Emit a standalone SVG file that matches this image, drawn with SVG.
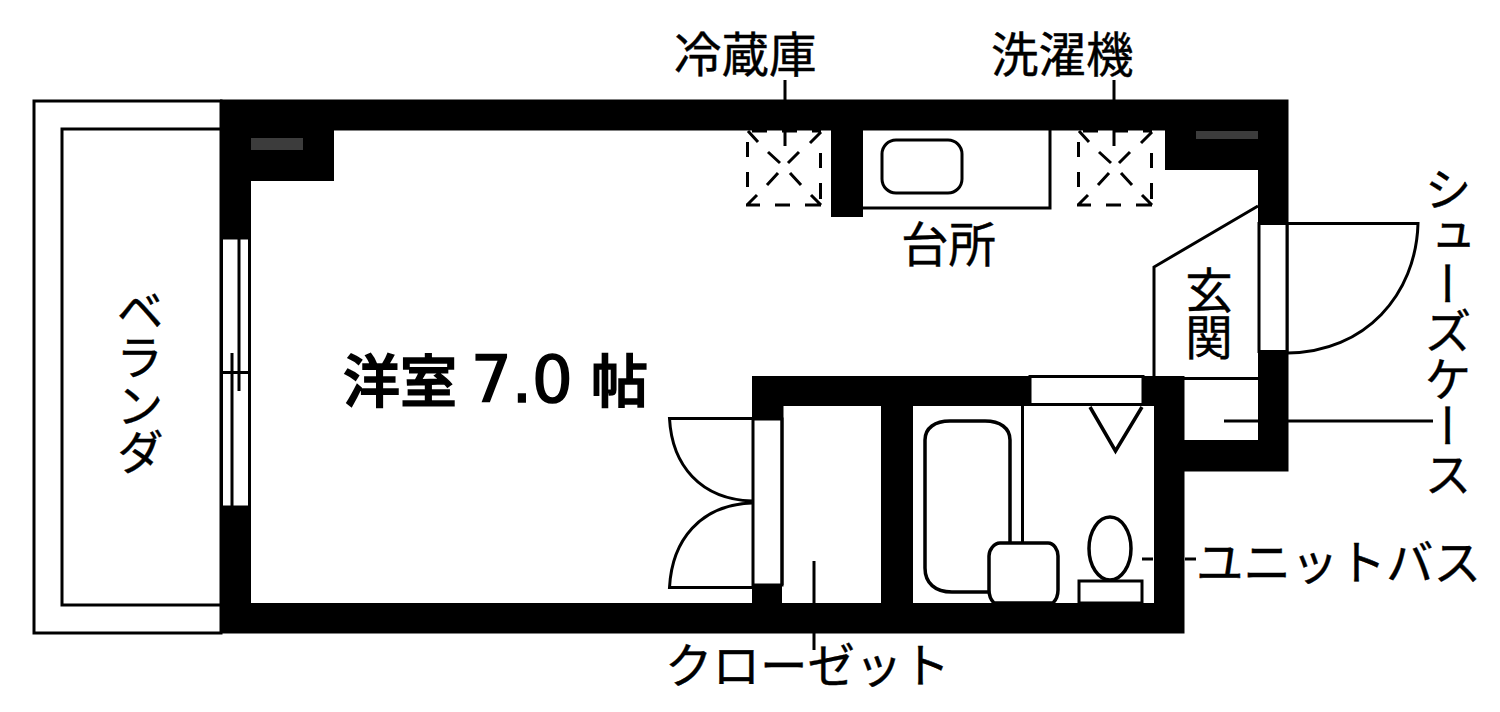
<svg xmlns="http://www.w3.org/2000/svg" width="1500" height="712" viewBox="0 0 1500 712">
<style>
.w{fill:#000;stroke:none}
.f{fill:#fff;stroke:none}
.o{fill:#fff;stroke:#000;stroke-width:3}
.l{fill:none;stroke:#000;stroke-width:3}
.t{fill:none;stroke:#000;stroke-width:3.5}
.g{fill:#3c3c3c}
text{font-family:"Noto Sans CJK JP","Noto Sans",sans-serif;font-size:47.500px;fill:#000;stroke:#000;stroke-width:.4}
.v{writing-mode:vertical-rl;text-orientation:upright}
.h{font-size:57px;font-weight:500;stroke-width:1.600}
.n{font-family:"DejaVu Sans",sans-serif;font-size:64px;font-weight:400}
</style>
<defs>
<path id="appliance" fill="none" stroke="#000" stroke-width="3" d="M747.500 142V157M747.500 172V187M746 205H760M775 205H790M805 205H821M820.500 153V168M820.500 183V199M748 131L758 142M768 152L780 163M790 173L801 185M811 195L821 205M821 132L810 143M799 152L788 163M778 173L767 185M757 195L747 205M752 131H767M782 131H797M812 131H821"/>
</defs>
<rect width="1500" height="712" fill="#fff"/>
<g id="veranda">
<rect class="o" x="34" y="101" width="187" height="532"/>
<rect class="o" x="62" y="129" width="159" height="476"/>
<text class="v" x="140" y="286">ベランダ</text>
</g>
<g id="walls">
<path class="w" d="M220 99.500H1288.500V471.500H1184.500V633.500H220Z"/>
<path class="f" d="M251 181H334V130.500H831V217H863V130.500H1165V170H1258V376H752V603H251Z"/>
<rect class="f" x="782" y="406" width="99" height="197"/>
<rect class="f" x="913" y="406" width="241" height="197"/>
<rect class="f" x="1184.500" y="376" width="73.500" height="64"/>
<rect class="g" x="251" y="138" width="52" height="12"/>
<rect class="g" x="1196" y="131" width="62" height="8"/>
</g>
<g id="room">
<text x="343" y="402" class="h">洋室<tspan x="471" class="n">7.0</tspan><tspan x="591">帖</tspan></text>
</g>
<g id="kitchen">
<path class="l" d="M863 208H1050V130"/>
<rect class="l" x="882" y="140" width="80" height="53" rx="14"/>
<text x="901" y="262">台所</text>
</g>
<g id="fridge">
<use href="#appliance"/>
<text x="674" y="72">冷蔵庫</text>
</g>
<g id="washer">
<use href="#appliance" x="331"/>
<text x="991" y="72">洗濯機</text>
</g>
<g id="window">
<rect class="o" x="221.500" y="238" width="28" height="269"/>
<path class="l" d="M221 372.500H250M239 238V391M232 353V507"/>
</g>
<g id="entrance">
<path class="l" d="M1258 206L1154 267V376"/>
<rect class="o" x="1259" y="223.500" width="28" height="128"/>
<path class="l" d="M1288 223.500H1418C1416 295 1365 352 1288 353"/>
<path class="l" d="M1184 378.500H1258"/>
<text class="v" x="1209" y="266">玄関</text>
</g>
<g id="closet">
<rect class="o" x="753" y="419" width="29" height="166"/>
<path class="l" d="M752 418.500H669.500C672 465 700 499 752 501M752 587.500H669.500C672 540 700 505 752 503"/>
<path class="l" d="M782 406V585"/>
</g>
<g id="bath">
<rect class="f" x="1030" y="377" width="113" height="28"/>
<path class="l" d="M1030 376.500H1143V404.500H1030Z"/>
<path class="l" d="M1022.500 406V543"/>
<path class="t" d="M1090 407L1115.500 451L1142 407"/>
<path class="t" d="M989 592H952C935 592 925 583 925 568V440C925 428 935 421 950 421H985C1000 421 1010 428 1010 440V543"/>
<path class="o" style="stroke-width:3.500" d="M1000 543H1048C1054 543 1058 550 1058 556V590C1058 597 1056 600 1053 603H994C991 600 989 597 989 590V556C989 550 994 543 1000 543Z"/>
<ellipse class="o" style="stroke-width:3.500" cx="1110" cy="548.500" rx="21" ry="31.500"/>
<rect class="o" x="1079" y="581" width="63" height="22"/>
</g>
<g id="connectors">
<path class="l" d="M785 80V100M785 130V146M1114 80V100M1114 130V146M814 561V603M814 633V650M1142 559H1153M1185 559H1196M1224 421H1258M1288 421H1433"/>
</g>
<g id="labels">
<text class="v" x="1448" y="165">シューズケース</text>
<text x="1196" y="580">ユニットバス</text>
<text x="665" y="683">クローゼット</text>
</g>
</svg>
